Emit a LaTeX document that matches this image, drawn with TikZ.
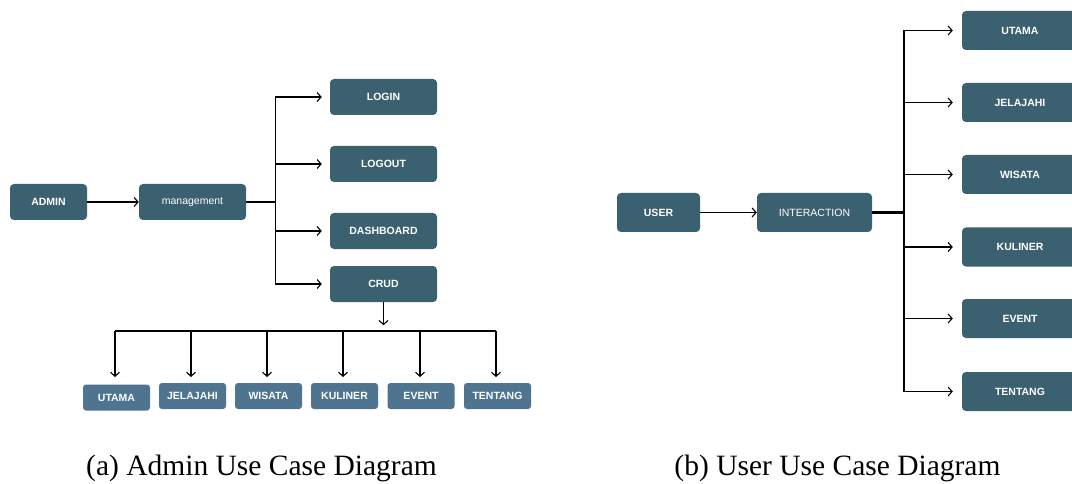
\documentclass[tikz,border=0pt]{standalone}
\usepackage{fontspec}
\setmainfont{Liberation Serif}
\newfontfamily\boxfont{Liberation Sans}
\usetikzlibrary{arrows.meta}
\definecolor{darkbox}{HTML}{3B606F}
\definecolor{lightbox}{HTML}{4E7490}
\begin{document}
\begin{tikzpicture}[x=1pt,y=-1pt,
  bx/.style={fill=darkbox,rounded corners=4pt,text=white,font=\boxfont\fontsize{10.5}{12}\selectfont\bfseries,inner sep=0pt,minimum height=36pt,minimum width=107pt},
  bxr/.style={bx,font=\boxfont\fontsize{10.5}{12}\selectfont},
  sm/.style={fill=lightbox,rounded corners=3pt,text=white,font=\boxfont\fontsize{10.5}{12}\selectfont\bfseries,inner sep=0pt,minimum height=26pt,minimum width=67pt},
  rb/.style={bx,minimum height=39pt,minimum width=116pt},
  conn/.style={draw=black,line width=1.1pt},
  arr/.style={conn,-{Straight Barb[length=4pt,width=9pt,line width=1.1pt]}},
  captxt/.style={font=\fontsize{29.5}{32}\selectfont,anchor=base}]
\clip (0,0) rectangle (1072,484);
\fill[white] (0,0) rectangle (1072,484);
% ---- left: admin
\node[bx,minimum width=77pt] (admin) at (48.5,202) {ADMIN};
\node[bxr] (mgmt) at (192.5,202) {management};
\node[bx] (login) at (383.5,97) {LOGIN};
\node[bx] (logout) at (383.5,164) {LOGOUT};
\node[bx] (dash) at (383.5,231) {DASHBOARD};
\node[bx] (crud) at (383.5,284) {CRUD};
\draw[arr] (admin.east) -- (mgmt.west);
\foreach \t in {login,logout,dash,crud}
  \draw[arr,shorten >=8pt] (mgmt.east) -- ++(29,0) |- (\t.west);
% bottom row
\node[sm] (a1) at (116.5,397.5) {UTAMA};
\node[sm] (a2) at (192.5,396) {JELAJAHI};
\node[sm] (a3) at (268.5,396) {WISATA};
\node[sm] (a4) at (344.5,396) {KULINER};
\node[sm] (a5) at (421,396) {EVENT};
\node[sm] (a6) at (497.5,396) {TENTANG};
\draw[arr] (crud.south) -- ++(0,23);
\coordinate (busL) at (115,331);
\coordinate (busR) at (496,331);
\draw[conn] (busL) -- (busR);
\foreach \t/\x in {a1/115,a2/191,a3/267,a4/343,a5/420,a6/496}
  \draw[arr] (\x,331) -- (\x,377);
% ---- right: user
\node[bx,minimum width=83pt,minimum height=39pt] (user) at (658.5,212.5) {USER};
\node[bxr,minimum width=115pt,minimum height=39pt] (inter) at (814.5,212.5) {INTERACTION};
\node[rb] (r1) at (1020,30.5) {UTAMA};
\node[rb] (r2) at (1020,102.5) {JELAJAHI};
\node[rb] (r3) at (1020,174.5) {WISATA};
\node[rb] (r4) at (1020,247) {KULINER};
\node[rb] (r5) at (1020,318.5) {EVENT};
\node[rb] (r6) at (1020,391.5) {TENTANG};
\draw[arr] (user.east) -- (inter.west);
\coordinate (rbus) at (904,212.5);
\draw[draw=black,line width=2.2pt] (inter.east) -- (rbus);
\draw[draw=black,line width=2.2pt] (rbus |- r1.west) -- (rbus |- r6.west);
\foreach \t in {r1,r2,r3,r4,r5,r6}
  \draw[arr,shorten >=9pt] (rbus |- \t.west) -- (\t.west);
% captions
\node[captxt] (capa) at (261.5,475) {(a) Admin Use Case Diagram};
\node[captxt] (capb) at (837.5,475) {(b) User Use Case Diagram};
\end{tikzpicture}
\end{document}
